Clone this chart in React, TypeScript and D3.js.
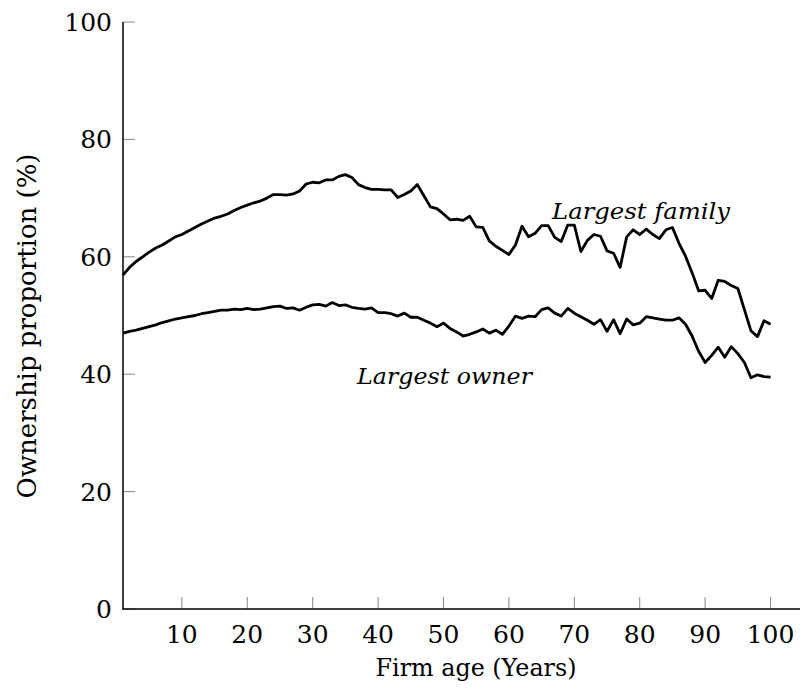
import React from "react"
import * as d3 from "d3"

// firm age in years, 1..100
const years = d3.range(1, 101)

// largest family ownership (%)
const familyShare = [
  56.9, 58.2, 59.2, 60.0, 60.8, 61.5, 62.0, 62.7, 63.4, 63.8,
  64.4, 65.0, 65.6, 66.1, 66.6, 66.9, 67.3, 67.9, 68.4, 68.8,
  69.2, 69.5, 70.0, 70.6, 70.6, 70.5, 70.7, 71.2, 72.4, 72.7,
  72.6, 73.1, 73.1, 73.7, 74.0, 73.5, 72.3, 71.8, 71.5, 71.5,
  71.4, 71.4, 70.1, 70.6, 71.2, 72.3, 70.4, 68.5, 68.2, 67.3,
  66.3, 66.4, 66.2, 66.9, 65.1, 65.0, 62.7, 61.8, 61.1, 60.4,
  62.0, 65.2, 63.4, 64.0, 65.3, 65.3, 63.3, 62.6, 65.4, 65.4,
  60.9, 62.8, 63.8, 63.5, 61.0, 60.6, 58.2, 63.4, 64.6, 63.8,
  64.7, 63.8, 63.1, 64.6, 65.0, 62.3, 60.1, 57.3, 54.2, 54.3,
  52.9, 56.0, 55.8, 55.1, 54.6, 51.0, 47.4, 46.4, 49.1, 48.5,
]

// largest single owner (%)
const ownerShare = [
  47.0, 47.3, 47.5, 47.8, 48.1, 48.4, 48.8, 49.1, 49.4, 49.6,
  49.8, 50.0, 50.3, 50.5, 50.7, 50.9, 50.9, 51.1, 51.0, 51.2,
  51.0, 51.1, 51.3, 51.5, 51.6, 51.2, 51.3, 50.9, 51.4, 51.8,
  51.9, 51.6, 52.2, 51.7, 51.8, 51.4, 51.2, 51.1, 51.3, 50.5,
  50.5, 50.3, 49.9, 50.4, 49.7, 49.7, 49.2, 48.7, 48.1, 48.7,
  47.8, 47.2, 46.5, 46.8, 47.2, 47.7, 47.0, 47.5, 46.8, 48.2,
  49.9, 49.5, 49.9, 49.8, 51.0, 51.3, 50.4, 49.9, 51.2, 50.4,
  49.8, 49.2, 48.5, 49.3, 47.3, 49.3, 46.9, 49.4, 48.4, 48.7,
  49.8, 49.6, 49.4, 49.2, 49.2, 49.6, 48.5, 46.5, 43.9, 42.0,
  43.2, 44.6, 42.9, 44.7, 43.5, 42.0, 39.4, 39.9, 39.6, 39.5,
]

const xTicks = [10, 20, 30, 40, 50, 60, 70, 80, 90, 100]
const yTicks = [0, 20, 40, 60, 80, 100]

const W = 801
const H = 695
const font = "DejaVu Serif"

export default function App() {
  const x = d3.scaleLinear().domain([1, 104.5]).range([123, 800])
  const y = d3.scaleLinear().domain([0, 100]).range([609, 22])

  const line = d3
    .line<number>()
    .x((d, i) => x(years[i]))
    .y((d) => y(d))

  return (
    <svg
      width={W}
      height={H}
      style={{ position: "absolute", left: 0, top: 0, background: "#fff" }}
      fontFamily={font}
    >
      {/* ticks (inside, gray) */}
      {xTicks.map((t) => (
        <g key={"x" + t}>
          <line x1={x(t)} x2={x(t)} y1={y(0)} y2={y(0) - 12} stroke="#888" strokeWidth={1} />
          <text x={x(t)} y={643} textAnchor="middle" fontSize={25} fill="#000">
            {t}
          </text>
        </g>
      ))}
      {yTicks.map((t) => (
        <g key={"y" + t}>
          <line x1={x(1)} x2={x(1) + 12} y1={y(t)} y2={y(t)} stroke="#888" strokeWidth={1} />
          <text x={112} y={y(t)} dy="0.36em" textAnchor="end" fontSize={25} fill="#000">
            {t}
          </text>
        </g>
      ))}

      {/* axis lines: left and bottom only */}
      <line x1={123} x2={123} y1={22} y2={609.5} stroke="#000" strokeWidth={1.5} />
      <line x1={122.5} x2={800} y1={609} y2={609} stroke="#000" strokeWidth={1.5} />

      {/* series */}
      <path d={line(familyShare) || ""} fill="none" stroke="#000" strokeWidth={2.8} strokeLinejoin="round" />
      <path d={line(ownerShare) || ""} fill="none" stroke="#000" strokeWidth={2.8} strokeLinejoin="round" />

      {/* in-plot labels */}
      <text x={552} y={219} fontSize={23} fontStyle="italic" fill="#000" textLength={178} lengthAdjust="spacingAndGlyphs">
        Largest family
      </text>
      <text x={357} y={384} fontSize={23} fontStyle="italic" fill="#000" textLength={175} lengthAdjust="spacingAndGlyphs">
        Largest owner
      </text>

      {/* axis titles */}
      <text x={476} y={676} textAnchor="middle" fontSize={25} fill="#000" textLength={201} lengthAdjust="spacingAndGlyphs">
        Firm age (Years)
      </text>
      <text
        transform="translate(36,326) rotate(-90)"
        textAnchor="middle"
        fontSize={26}
        fill="#000"
        textLength={345}
        lengthAdjust="spacingAndGlyphs"
      >
        Ownership proportion (%)
      </text>
    </svg>
  )
}
